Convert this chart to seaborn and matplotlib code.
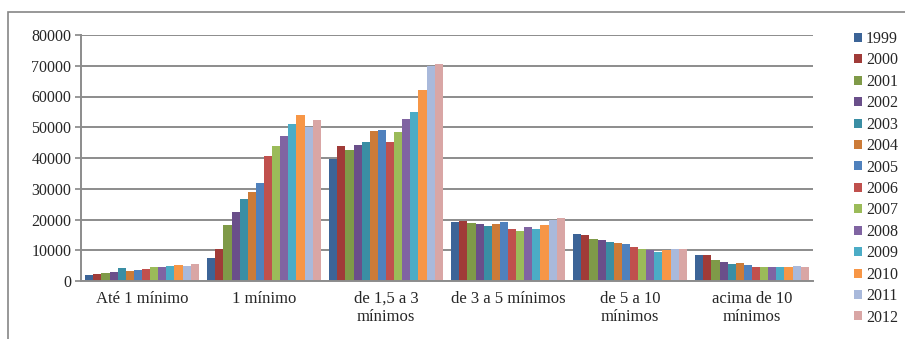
import matplotlib
matplotlib.use("Agg")
import matplotlib.pyplot as plt
import seaborn as sns
import pandas as pd
from matplotlib.patches import Rectangle, Patch

categories = ["Até 1 mínimo", "1 mínimo", "de 1,5 a 3\nmínimos", "de 3 a 5 mínimos",
              "de 5 a 10\nmínimos", "acima de 10\nmínimos"]
years = ["1999", "2000", "2001", "2002", "2003", "2004", "2005",
         "2006", "2007", "2008", "2009", "2010", "2011", "2012"]

ate1 = [2000, 2300, 2600, 2900, 4200, 3300, 3600, 3900, 4500, 4400, 4900, 5200, 5000, 5500]
um = [7500, 10500, 18200, 22600, 26700, 29100, 32000, 40500, 43800, 47000, 50900, 54100, 50000, 52200]
de15a3 = [39800, 43800, 42500, 44100, 45300, 48800, 49000, 45100, 48300, 52700, 54900, 62100, 69800, 70500]
de3a5 = [19100, 19600, 18900, 18600, 17900, 18600, 19100, 16800, 16300, 17400, 16950, 18300, 19800, 20400]
de5a10 = [15300, 14900, 13600, 13400, 12800, 12400, 12000, 10900, 10500, 10200, 9500, 10000, 10300, 10300]
acima10 = [8300, 8300, 6800, 6100, 5400, 5800, 5200, 4400, 4500, 4600, 4600, 4700, 4900, 4700]

series = [ate1, um, de15a3, de3a5, de5a10, acima10]

colors = ["#3C6497", "#A03B38", "#7F9A48", "#6A4F8A", "#3A8EA4", "#CC7B38", "#4F81BD",
          "#C0504D", "#9BBB59", "#8064A2", "#4BACC6", "#F79646", "#A9B9DB", "#D9A6A5"]

rows = []
for cat, vals in zip(categories, series):
    for yr, v in zip(years, vals):
        rows.append({"cat": cat, "year": yr, "value": v})
df = pd.DataFrame(rows)

sns.set_style("white")
plt.rcParams["font.family"] = ["Liberation Serif", "DejaVu Serif"]

FS = 11.5
fig = plt.figure(figsize=(9.05, 3.39), dpi=100)
ax = fig.add_axes([81/905, 1 - 281/339, (813 - 81)/905, (281 - 35)/339])

sns.barplot(data=df, x="cat", y="value", hue="year", order=categories, hue_order=years,
            palette=colors, width=0.93, saturation=1, errorbar=None, ax=ax,
            linewidth=0, legend=False)

ax.set_ylim(0, 80000)
ax.set_xlim(-0.5, 5.5)
ax.set_yticks(range(0, 80001, 10000))
ax.set_yticklabels([str(v) for v in range(0, 80001, 10000)], fontsize=FS)
ax.set_xticks(range(len(categories)))
ax.set_xticklabels(categories, fontsize=12, ha="center", multialignment="center",
                   linespacing=1.2)
ax.tick_params(axis="x", length=0, pad=7)
ax.tick_params(axis="y", length=4, width=1.2, color="#868686", pad=3, left=True)
ax.set_xlabel("")
ax.set_ylabel("")
ax.grid(axis="y", color="#8c8c8c", linewidth=1.4)
ax.set_axisbelow(True)
for s in ["top", "right"]:
    ax.spines[s].set_visible(False)
for s in ["left", "bottom"]:
    ax.spines[s].set_color("#8c8c8c")
    ax.spines[s].set_linewidth(1.4)

handles = [Patch(facecolor=c, edgecolor="none") for c in colors]
fig.legend(handles, years, loc="upper left", bbox_to_anchor=(854/905, 1 - 31/339),
           frameon=False, fontsize=FS, handlelength=0.5, handleheight=0.5,
           handletextpad=0.25, labelspacing=0.34, borderpad=0, borderaxespad=0)

fig.add_artist(Rectangle((8/905, -0.2), 1.2, 1 - 12/339 + 0.2, transform=fig.transFigure,
                         fill=False, edgecolor="#868686", linewidth=1.2, clip_on=False))

fig.savefig("out.png", dpi=100)
